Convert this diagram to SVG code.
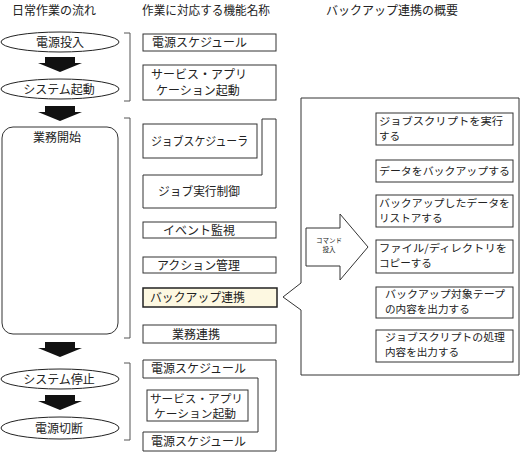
<svg xmlns="http://www.w3.org/2000/svg" width="523" height="452" viewBox="0 0 523 452">
<style>
text{font-family:"Noto Sans CJK JP","Noto Sans CJK SC",sans-serif;font-size:12px;fill:#222}
.box{fill:#fff;stroke:#333;stroke-width:1}
.br{fill:none;stroke:#555;stroke-width:1}
.ell{fill:#fff;stroke:#222;stroke-width:1}
.blk{fill:#111;stroke:none}
.sm{font-size:10.6px}
.md{font-size:11px}
.tiny{font-size:6.5px}
</style>
<rect width="523" height="452" fill="#fff"/>
<g id="headers">
<text x="12" y="15">日常作業の流れ</text>
<text x="142" y="15" textLength="128" lengthAdjust="spacingAndGlyphs">作業に対応する機能名称</text>
<text x="326" y="15" textLength="132" lengthAdjust="spacingAndGlyphs">バックアップ連携の概要</text>
</g>
<g id="flow-arrows">
<path class="blk" d="M45,57H75V63H82L60,72L38,63H45Z"/>
<path class="blk" d="M45,106H75V112H82L60,121L38,112H45Z"/>
<path class="blk" d="M45,342H75V348H82L60,357L38,348H45Z"/>
<path class="blk" d="M45,395H75V401H82L60,410L38,401H45Z"/>
</g>
<g id="n-power-on"><ellipse class="ell" cx="60" cy="42" rx="59" ry="10"/><text x="60" y="47" text-anchor="middle">電源投入</text></g>
<g id="n-system-start"><ellipse class="ell" cx="60" cy="89" rx="59" ry="10"/><text x="59" y="94" text-anchor="middle">システム起動</text></g>
<g id="n-business"><rect class="box" x="2" y="127" width="116" height="207" rx="11"/><text x="57" y="142" text-anchor="middle">業務開始</text></g>
<g id="n-system-stop"><ellipse class="ell" cx="60" cy="379" rx="59" ry="10"/><text x="59" y="384" text-anchor="middle">システム停止</text></g>
<g id="n-power-off"><ellipse class="ell" cx="60" cy="428" rx="59" ry="11"/><text x="59" y="433" text-anchor="middle">電源切断</text></g>
<g id="brackets">
<path class="br" d="M124,33H130V101H124"/>
<path class="br" d="M124,118H130V338H124"/>
<path class="br" d="M124,363H130V440H124"/>
</g>
<g id="f-power-schedule"><rect class="box" x="143" y="34" width="133" height="17"/><text x="152" y="47" textLength="95" lengthAdjust="spacingAndGlyphs">電源スケジュール</text></g>
<g id="f-service-start"><rect class="box" x="143" y="65" width="133" height="35"/><text x="151" y="79">サービス・アプリ</text><text x="156" y="95">ケーション起動</text></g>
<g id="f-job-exec"><path class="box" d="M262,119H276V208H143V175H262Z"/><text x="158" y="196" textLength="82" lengthAdjust="spacingAndGlyphs">ジョブ実行制御</text></g>
<g id="f-job-scheduler"><rect class="box" x="143" y="124" width="114" height="34"/><text x="151" y="146" textLength="97" lengthAdjust="spacingAndGlyphs">ジョブスケジューラ</text></g>
<g id="f-event"><rect class="box" x="143" y="222" width="133" height="16"/><text x="163" y="235" textLength="72" lengthAdjust="spacingAndGlyphs">イベント監視</text></g>
<g id="f-action"><rect class="box" x="143" y="257" width="133" height="16"/><text x="157" y="270" textLength="83" lengthAdjust="spacingAndGlyphs">アクション管理</text></g>
<g id="f-backup"><rect x="143" y="288" width="134" height="19" fill="#fdf8e1" stroke="#222" stroke-width="1.5"/><text x="150" y="302" textLength="95" lengthAdjust="spacingAndGlyphs">バックアップ連携</text></g>
<g id="f-business-link"><rect class="box" x="143" y="325" width="133" height="18"/><text x="172" y="339">業務連携</text></g>
<g id="f-power-schedule-2"><path class="box" d="M143,360H276V451H143V432H258V378H143Z"/><text x="151" y="373" textLength="95" lengthAdjust="spacingAndGlyphs">電源スケジュール</text><text x="151" y="446" textLength="95" lengthAdjust="spacingAndGlyphs">電源スケジュール</text></g>
<g id="f-service-start-2"><rect class="box" x="147" y="390" width="101" height="31"/><text class="md" x="150" y="403" textLength="93" lengthAdjust="spacingAndGlyphs">サービス・アプリ</text><text class="md" x="154" y="418" textLength="82" lengthAdjust="spacingAndGlyphs">ケーション起動</text></g>
<g id="connectors">
<path class="box" d="M301,98H519V375H301V310L283,297L301,283Z" stroke="#222"/>
</g>
<g id="command-arrow"><path class="box" d="M306,228H340V214L368,247L340,280V266H306Z" stroke="#222"/><text class="tiny" x="329" y="243" text-anchor="middle">コマンド</text><text class="tiny" x="329" y="252" text-anchor="middle">投入</text></g>
<g id="b1"><rect class="box" x="376" y="113" width="137" height="32"/><text class="sm" x="379" y="125" textLength="124" lengthAdjust="spacingAndGlyphs">ジョブスクリプトを実行</text><text class="sm" x="379" y="140">する</text></g>
<g id="b2"><rect class="box" x="376" y="160" width="137" height="22"/><text class="sm" x="379" y="175" textLength="131" lengthAdjust="spacingAndGlyphs">データをバックアップする</text></g>
<g id="b3"><rect class="box" x="376" y="195" width="137" height="32"/><text class="sm" x="379" y="207" textLength="131" lengthAdjust="spacingAndGlyphs">バックアップしたデータを</text><text class="sm" x="379" y="222">リストアする</text></g>
<g id="b4"><rect class="box" x="376" y="240" width="137" height="33"/><text class="sm" x="379" y="252" textLength="128" lengthAdjust="spacingAndGlyphs">ファイル/ディレクトリを</text><text class="sm" x="379" y="267">コピーする</text></g>
<g id="b5"><rect class="box" x="376" y="287" width="137" height="31"/><text class="sm" x="385" y="298" textLength="120" lengthAdjust="spacingAndGlyphs">バックアップ対象テープ</text><text class="sm" x="385" y="313">の内容を出力する</text></g>
<g id="b6"><rect class="box" x="376" y="330" width="137" height="32"/><text class="sm" x="385" y="341" textLength="120" lengthAdjust="spacingAndGlyphs">ジョブスクリプトの処理</text><text class="sm" x="385" y="356">内容を出力する</text></g>
</svg>
